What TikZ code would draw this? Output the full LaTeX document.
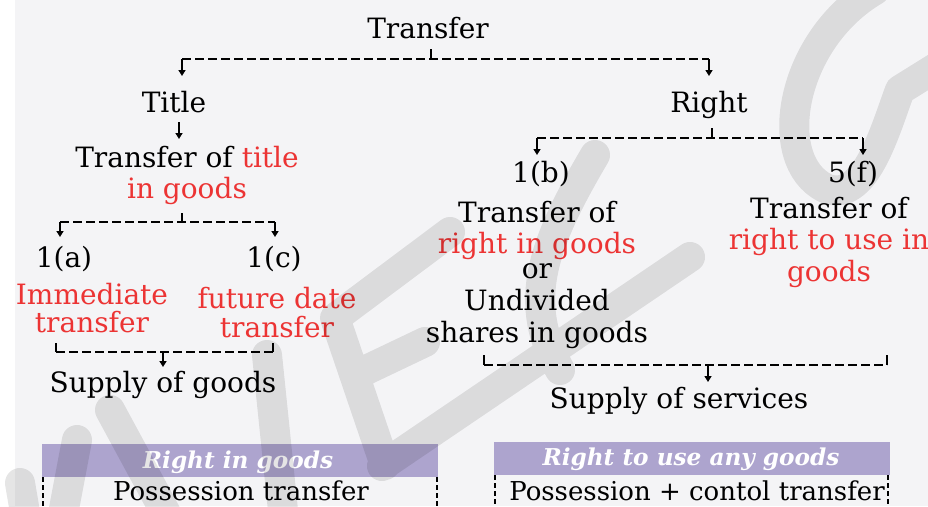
\documentclass[tikz,border=0pt]{standalone}
\usepackage{fontspec}
\setmainfont{DejaVu Serif}
\usetikzlibrary{arrows.meta}
\definecolor{bg}{RGB}{244,244,246}
\definecolor{redtxt}{RGB}{236,52,52}
\definecolor{hdr}{RGB}{173,164,206}
\newcommand{\rd}[1]{\textcolor{redtxt}{#1}}
\begin{document}
\begin{tikzpicture}[x=1pt,y=-1pt,
  lbl/.style={anchor=base, inner sep=0pt, font=\fontsize{28}{31}\selectfont, align=center},
  tbl/.style={anchor=base, inner sep=0pt, font=\fontsize{26}{30}\selectfont},
  hdrtxt/.style={anchor=base, inner sep=0pt, text=white, font=\fontsize{23.2}{26}\selectfont\bfseries\itshape},
  bus/.style={line width=1.6pt, dash pattern=on 9pt off 4pt},
  tick/.style={line width=1.6pt},
  arr/.style={line width=1.6pt, -{Triangle[width=7pt,length=6pt]}},
  vdash/.style={line width=1.3pt, dash pattern=on 5pt off 3pt},
 ]
\useasboundingbox (0,0) rectangle (928,506);
\fill[white] (0,0) rectangle (928,506);
\fill[bg] (15,0) rectangle (928,506);

% nodes (multi-line nodes are placed by the baseline of their last line)
\node[lbl] (transfer) at (428,38) {Transfer};
\node[lbl] (title) at (174,112) {Title};
\node[lbl] (right) at (709,112) {Right};
\node[lbl] (toft) at (187,198) {Transfer of \rd{title}\\\rd{in goods}};
\node[lbl] (oa) at (64,267) {1(a)};
\node[lbl] (oc) at (274,267) {1(c)};
\node[lbl,text=redtxt] (imm) at (92,332) {Immediate\\[-3pt]transfer};
\node[lbl,text=redtxt] (fut) at (277,337) {future date\\[-2pt]transfer};
\node[lbl] (sgoods) at (163,392) {Supply of goods};
\node[lbl] (ob) at (541,182) {1(b)};
\node[lbl] (fivef) at (853,182) {5(f)};
\node[lbl] (mid) at (537,342) {Transfer of\\\rd{right in goods}\\[-6pt]or\\[1pt]Undivided\\[1pt]shares in goods};
\node[lbl] (rcol) at (829,281) {Transfer of\\\rd{right to use in}\\[1pt]\rd{goods}};
\node[lbl] (sserv) at (679,408) {Supply of services};

% connectors
\coordinate (t0) at (431,49); \coordinate (t1) at (431,59);
\coordinate (t1l) at (182,59); \coordinate (t1r) at (709,59);
\coordinate (titletop) at (182,76); \coordinate (righttop) at (709,76);
\draw[tick] (t0) -- (t1);
\draw[bus] (t1l) -- (t1r);
\draw[arr] (t1l) -- (titletop);
\draw[arr] (t1r) -- (righttop);

\coordinate (ti0) at (179,122); \coordinate (ti1) at (179,139);
\draw[arr] (ti0) -- (ti1);

\coordinate (g0) at (182,213); \coordinate (g1) at (182,222);
\coordinate (g1l) at (60,222); \coordinate (g1r) at (275,222);
\coordinate (oatop) at (60,237); \coordinate (octop) at (275,237);
\draw[tick] (g0) -- (g1);
\draw[bus] (g1l) -- (g1r);
\draw[arr] (g1l) -- (oatop);
\draw[arr] (g1r) -- (octop);

\coordinate (s0l) at (56,343); \coordinate (s1l) at (56,352);
\coordinate (s0r) at (273,343); \coordinate (s1r) at (273,352);
\coordinate (s1m) at (163,352); \coordinate (sgtop) at (163,367);
\draw[tick] (s0l) -- (s1l);
\draw[tick] (s0r) -- (s1r);
\draw[bus] (s1l) -- (s1r);
\draw[arr] (s1m) -- (sgtop);

\coordinate (r0) at (712,128); \coordinate (r1) at (712,138);
\coordinate (r1l) at (537,138); \coordinate (r1r) at (863,138);
\coordinate (obtop) at (537,155); \coordinate (fftop) at (863,155);
\draw[tick] (r0) -- (r1);
\draw[bus] (r1l) -- (r1r);
\draw[arr] (r1l) -- (obtop);
\draw[arr] (r1r) -- (fftop);

\coordinate (v0l) at (484,355); \coordinate (v1l) at (484,365);
\coordinate (v0r) at (887,355); \coordinate (v1r) at (887,365);
\coordinate (v1m) at (708,365); \coordinate (sstop) at (708,382);
\draw[tick] (v0l) -- (v1l);
\draw[tick] (v0r) -- (v1r);
\draw[bus] (v1l) -- (v1r);
\draw[arr] (v1m) -- (sstop);

% tables
\fill[hdr] (42,444) rectangle (438,477);
\node[hdrtxt] (h1) at (238,468) {Right in goods};
\draw[vdash] (43,477) -- (43,506);
\draw[vdash] (437,477) -- (437,506);
\node[tbl] (p1) at (241,500) {Possession transfer};

\fill[hdr] (494,442) rectangle (890,475);
\node[hdrtxt] (h2) at (691,465) {Right to use any goods};
\draw[vdash] (495,475) -- (495,506);
\draw[vdash] (888,475) -- (888,506);
\node[tbl] (p2) at (697,500) {Possession + contol transfer};

% watermark
\begin{scope}[transparency group, opacity=0.1]
\draw[black, line width=30pt, line cap=round, line join=round]
  (875,-10) .. controls (790,40) and (770,160) .. (825,188) .. controls (865,205) and (885,130) .. (900,90) -- (945,62)
  (595,155) .. controls (545,240) and (520,300) .. (560,370)
  (690,257) -- (382,466)
  (450,232) -- (335,318) -- (385,465)
  (362,372) -- (425,342)
  (20,483) -- (28,530)
  (77,440) -- (60,530)
  (110,410) -- (175,530)
  (267,355) -- (285,530);
\end{scope}
\end{tikzpicture}
\end{document}
